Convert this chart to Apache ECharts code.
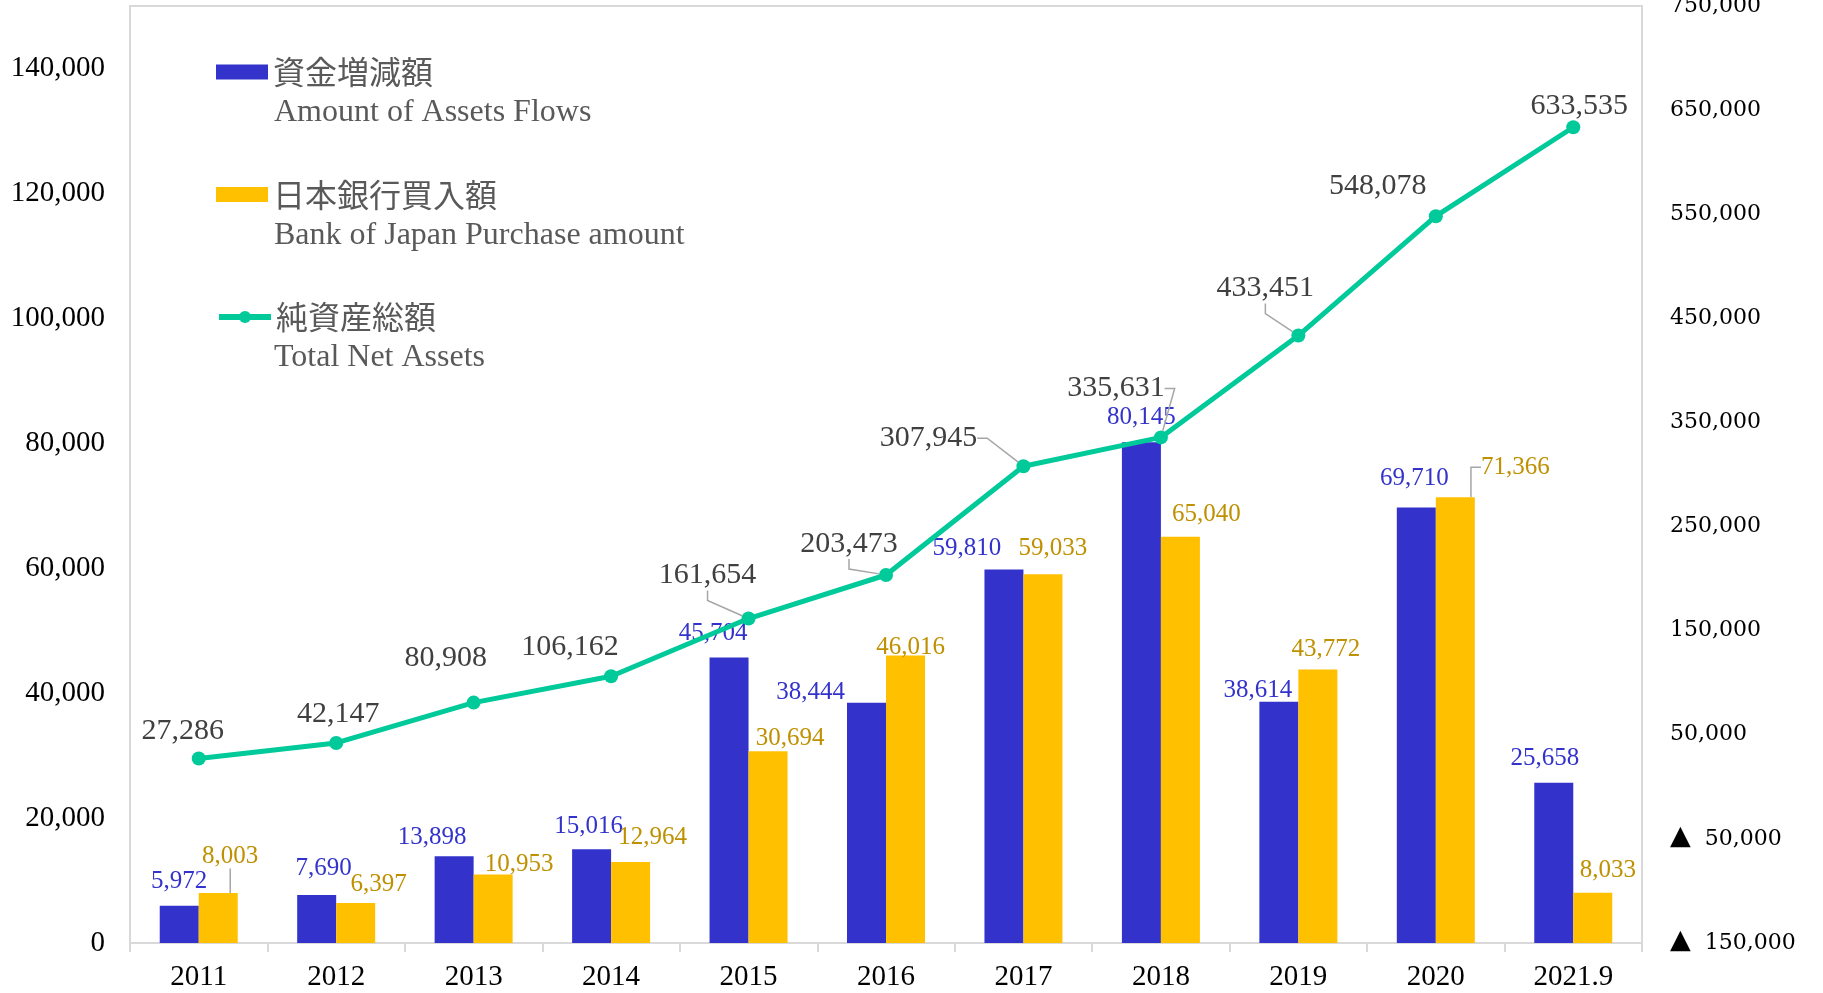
<!DOCTYPE html>
<html>
<head>
<meta charset="utf-8">
<title>資金増減額・日本銀行買入額・純資産総額</title>
<script src="https://cdn.jsdelivr.net/npm/echarts@6/dist/echarts.min.js"></script>
<style>
html,body{margin:0;padding:0;background:#fff;}
#main{width:1823px;height:993px;}
</style>
</head>
<body>
<div id="main"></div>
<script>
// データ
var years = ['2011', '2012', '2013', '2014', '2015', '2016', '2017', '2018', '2019', '2020', '2021.9'];
var assetFlows = [5972, 7690, 13898, 15016, 45704, 38444, 59810, 80145, 38614, 69710, 25658];
var bojPurchase = [8003, 6397, 10953, 12964, 30694, 46016, 59033, 65040, 43772, 71366, 8033];
var totalNetAssets = [27286, 42147, 80908, 106162, 161654, 203473, 307945, 335631, 433451, 548078, 633535];

var seriesNames = ['資金増減額', '日本銀行買入額', '純資産総額'];
var seriesNamesEn = ['Amount of Assets Flows', 'Bank of Japan Purchase amount', 'Total Net Assets'];

// 軸
var leftMin = 0, leftMax = 150000, leftStep = 20000;
var rightMin = -150000, rightMax = 750000, rightStep = 50000;

// ラベル位置の調整 (px)
var flowsLabelOff = [[0,-24],[7,-27],[-22,-19],[-3,-23],[-16,-24],[-56,-10],[-37,-21],[0,-25],[-21,-11],[-2,-29],[-9,-24]];
var bojLabelOff = [[12,-37],[23,-19],[26,-10],[22,-25],[22,-13],[5,-8],[10,-26],[26,-22],[8,-20],[60,-30],[15,-22]];
var netLabelOff = [[-16,-27],[2,-29],[-28,-44],[-41,-29],[-41,-43],[-37,-31],[-95,-28],[-45,-49],[-33,-47],[-58,-30],[6,-21]];
var bojLeader = [0, 9];
var netLeader = [4, 5, 6, 7, 8];

var BLUE = '#3333CC', GOLD = '#FFC000', GREEN = '#00C99A';
var SERIF = '"Liberation Serif", "Times New Roman", serif';
var CJK = '"Noto Sans CJK JP", sans-serif';

function fmt(v) {
    return Math.abs(v).toString().replace(/\B(?=(\d{3})+(?!\d))/g, ',');
}

function withLeader(values, leaders) {
    return values.map(function (v, i) {
        return { value: v, labelLine: { show: leaders.indexOf(i) >= 0 } };
    });
}

// バーの上辺中央を基準にラベルを置く
function barLayout(off) {
    return function (p) {
        var o = off[p.dataIndex];
        return {
            x: p.rect.x + p.rect.width / 2 + o[0],
            y: p.rect.y + o[1],
            align: 'center',
            verticalAlign: 'middle'
        };
    };
}
// 点の中心を基準
function pointLayout(off) {
    return function (p) {
        var o = off[p.dataIndex];
        return {
            x: p.rect.x + p.rect.width / 2 + o[0],
            y: p.rect.y + p.rect.height / 2 + o[1],
            align: 'center',
            verticalAlign: 'middle'
        };
    };
}

var leaderStyle = { color: '#a6a6a6', width: 1.5 };

var myChart = echarts.init(document.getElementById('main'));

var option = {
    animation: false,
    backgroundColor: '#fff',
    grid: {
        left: 130,
        right: 181,
        top: 6,
        bottom: 50,
        outerBoundsMode: 'none',
        containLabel: false,
        show: true,
        borderColor: '#d9d9d9',
        borderWidth: 2
    },
    legend: [0, 1, 2].map(function (i) {
        return {
            data: [seriesNames[i]],
            left: 216,
            top: 56 + i * 122.5,
            padding: 0,
            itemWidth: 52,
            itemHeight: 15,
            itemGap: 0,
            icon: i < 2 ? 'rect' : undefined,
            lineStyle: i === 2 ? { width: 6 } : undefined,
            selectedMode: false,
            textStyle: { fontFamily: CJK, fontSize: 32, color: '#595959' }
        };
    }),
    graphic: seriesNamesEn.map(function (t, i) {
        return {
            type: 'text',
            x: 274,
            y: 113 + i * 122.5,
            style: {
                text: t,
                font: '32px ' + SERIF,
                fill: '#595959',
                verticalAlign: 'middle'
            }
        };
    }),
    xAxis: {
        type: 'category',
        data: years,
        axisLine: { lineStyle: { color: '#d9d9d9', width: 2 } },
        axisTick: { show: true, length: 9, lineStyle: { color: '#d9d9d9', width: 2 } },
        axisLabel: { color: '#000', fontFamily: SERIF, fontSize: 29, margin: 20 }
    },
    yAxis: [{
        type: 'value',
        min: leftMin,
        max: leftMax,
        interval: leftStep,
        splitLine: { show: false },
        axisLine: { show: false },
        axisTick: { show: false },
        axisLabel: {
            color: '#000',
            fontFamily: SERIF,
            fontSize: 29,
            margin: 25,
            formatter: function (v) { return v % leftStep === 0 ? fmt(v) : ''; }
        }
    }, {
        type: 'value',
        min: rightMin,
        max: rightMax,
        interval: rightStep,
        splitLine: { show: false },
        axisLine: { show: false },
        axisTick: { show: false },
        axisLabel: {
            color: '#000',
            fontFamily: '"DejaVu Serif", serif',
            fontSize: 22,
            margin: 28,
            formatter: function (v) {
                if (Math.abs(v / rightStep) % 2 !== 1) return '';
                return v < 0 ? '{tri|▲}  ' + fmt(v) : fmt(v);
            },
            rich: {
                tri: { fontFamily: '"DejaVu Sans", sans-serif', fontSize: 27, color: '#000', padding: [0, 0, 4, 0] }
            }
        }
    }],
    series: [{
        name: seriesNames[0],
        type: 'bar',
        yAxisIndex: 0,
        data: assetFlows,
        barWidth: 39,
        barGap: '0%',
        itemStyle: { color: BLUE },
        label: {
            show: true,
            position: 'top',
            color: BLUE,
            fontFamily: SERIF,
            fontSize: 25,
            formatter: function (p) { return fmt(p.value); }
        },
        labelLayout: barLayout(flowsLabelOff)
    }, {
        name: seriesNames[1],
        type: 'bar',
        yAxisIndex: 0,
        data: withLeader(bojPurchase, bojLeader),
        barWidth: 39,
        barGap: '0%',
        itemStyle: { color: GOLD },
        label: {
            show: true,
            position: 'top',
            color: '#BF9000',
            fontFamily: SERIF,
            fontSize: 25,
            formatter: function (p) { return fmt(p.value); }
        },
        labelLine: { show: false, length2: 10, lineStyle: leaderStyle },
        labelLayout: barLayout(bojLabelOff)
    }, {
        name: seriesNames[2],
        type: 'line',
        yAxisIndex: 1,
        data: withLeader(totalNetAssets, netLeader),
        symbol: 'circle',
        symbolSize: 14,
        lineStyle: { color: GREEN, width: 5 },
        itemStyle: { color: GREEN },
        label: {
            show: true,
            position: 'top',
            color: '#404040',
            fontFamily: SERIF,
            fontSize: 30,
            formatter: function (p) { return fmt(p.value); }
        },
        labelLine: { show: false, length2: 10, lineStyle: leaderStyle },
        labelLayout: pointLayout(netLabelOff),
        z: 3
    }]
};

myChart.setOption(option);
</script>
</body>
</html>
